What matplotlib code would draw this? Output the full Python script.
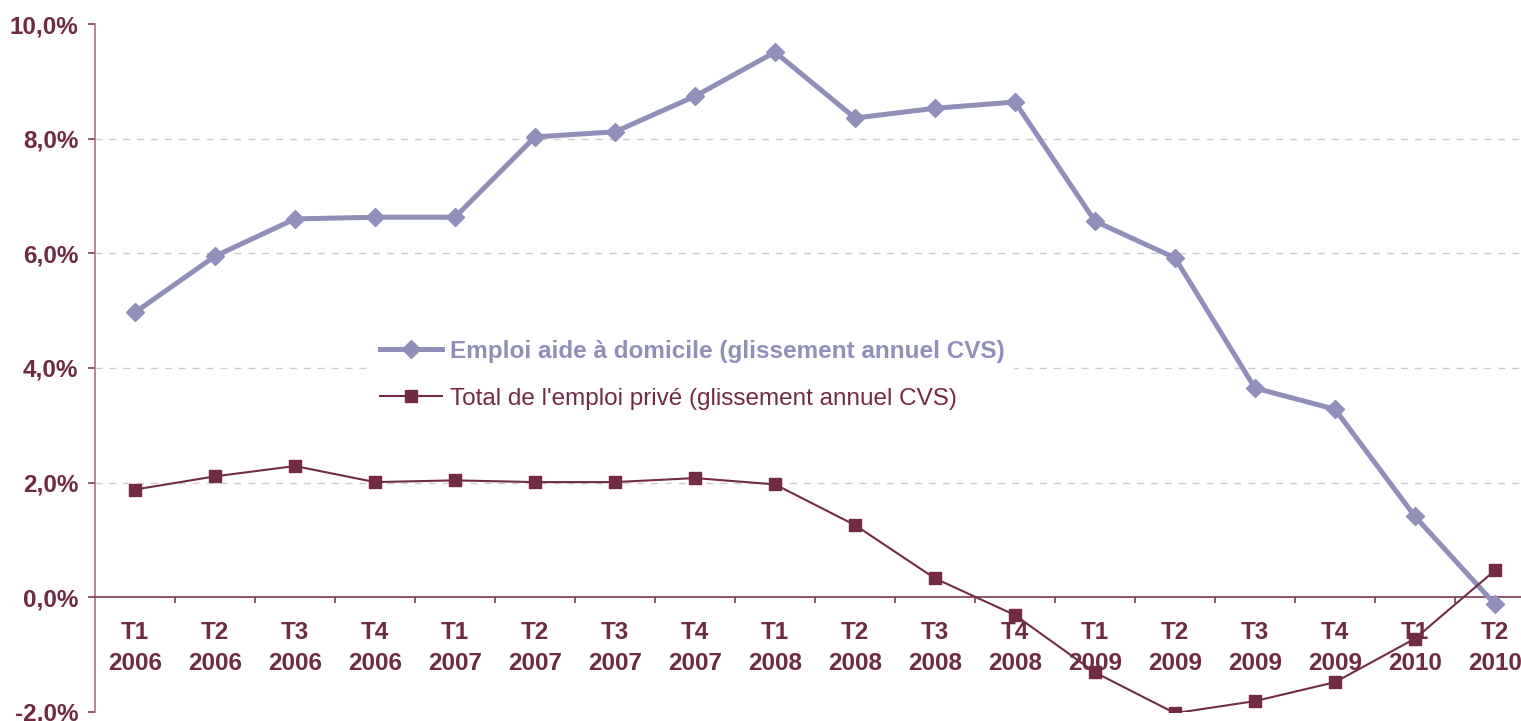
import matplotlib
matplotlib.use('Agg')
import matplotlib.pyplot as plt
from matplotlib.ticker import FixedLocator, FuncFormatter

plt.rcParams['font.family'] = ['Liberation Sans', 'DejaVu Sans']

# data
trimestres = ['T1', 'T2', 'T3', 'T4'] * 4 + ['T1', 'T2']
annees = ['2006'] * 4 + ['2007'] * 4 + ['2008'] * 4 + ['2009'] * 4 + ['2010'] * 2
aide_domicile = [4.97, 5.95, 6.60, 6.63, 6.63, 8.03, 8.12, 8.74, 9.51,
                 8.36, 8.53, 8.64, 6.56, 5.92, 3.65, 3.28, 1.41, -0.12]
emploi_prive = [1.88, 2.11, 2.29, 2.01, 2.04, 2.01, 2.01, 2.08, 1.97,
                1.26, 0.33, -0.31, -1.31, -2.02, -1.81, -1.48, -0.72, 0.47]
label_aide = 'Emploi aide à domicile (glissement annuel CVS)'
label_prive = "Total de l'emploi privé (glissement annuel CVS)"
yticks = [-2, 0, 2, 4, 6, 8, 10]

c_aide = '#8F8FBA'
c_prive = '#722B45'
c_text = '#6E2A42'
fs = 17.5

W, H = 1521, 721
fig = plt.figure(figsize=(W / 100, H / 100), dpi=100)
ax = fig.add_axes([95 / W, 9 / H, 1440 / W, 688 / H])

x = list(range(len(aide_domicile)))
ax.plot(x, aide_domicile, '-', color=c_aide, lw=3.6, marker='D', ms=9,
        label=label_aide, zorder=3)
ax.plot(x, emploi_prive, '-', color=c_prive, lw=1.5, marker='s', ms=9,
        label=label_prive, zorder=4)

ax.set_xlim(-0.5, len(x) - 0.5)
ax.set_ylim(yticks[0], yticks[-1])

# spines
for s in ['top', 'right']:
    ax.spines[s].set_visible(False)
ax.spines['left'].set_color('#A57585')
ax.spines['left'].set_linewidth(1.2)
ax.spines['bottom'].set_position(('data', 0))
ax.spines['bottom'].set_color('#7B3B52')
ax.spines['bottom'].set_linewidth(1.2)

# y axis
ax.set_yticks(yticks)
ax.yaxis.set_major_formatter(FuncFormatter(lambda v, p: ('%.1f%%' % v).replace('.', ',')))
ax.tick_params(axis='y', direction='out', length=5, width=1.2, color='#7B3B52',
               pad=7, labelsize=fs, labelcolor=c_text)
for lab in ax.get_yticklabels():
    lab.set_fontweight('bold')

# x axis: ticks between categories, labels at centres
ax.xaxis.set_major_locator(FixedLocator([i + 0.5 for i in x[:-1]]))
ax.xaxis.set_major_formatter(FuncFormatter(lambda v, p: ''))
ax.xaxis.set_minor_locator(FixedLocator(x))
ax.set_xticklabels([t + '\n' + a for t, a in zip(trimestres, annees)], minor=True)
ax.tick_params(axis='x', which='major', direction='out', length=4, width=1.2,
               color='#7B3B52')
ax.tick_params(axis='x', which='minor', length=0, pad=17, labelsize=fs,
               labelcolor=c_text)
for lab in ax.get_xticklabels(minor=True):
    lab.set_fontweight('bold')
    lab.set_linespacing(1.45)

# dashed grid, only inside
ax.yaxis.grid(True, color='#D3C8CC', lw=1, ls=(0, (5, 5)))
gl = ax.yaxis.get_gridlines()
for i, v in enumerate(yticks):
    if v in (yticks[0], 0, yticks[-1]):
        gl[i].set_visible(False)

leg = ax.legend(loc='upper left', bbox_to_anchor=(370 / W, 1 - 330 / H),
                bbox_transform=fig.transFigure, frameon=True, fancybox=False,
                framealpha=1, edgecolor='none', facecolor='white',
                fontsize=fs, handlelength=2.55, handletextpad=0.33,
                labelspacing=1.03, borderpad=0.4, borderaxespad=0)
texts = leg.get_texts()
texts[0].set_color(c_aide)
texts[0].set_fontweight('bold')
texts[1].set_color(c_prive)

fig.savefig('out.png', dpi=100)
